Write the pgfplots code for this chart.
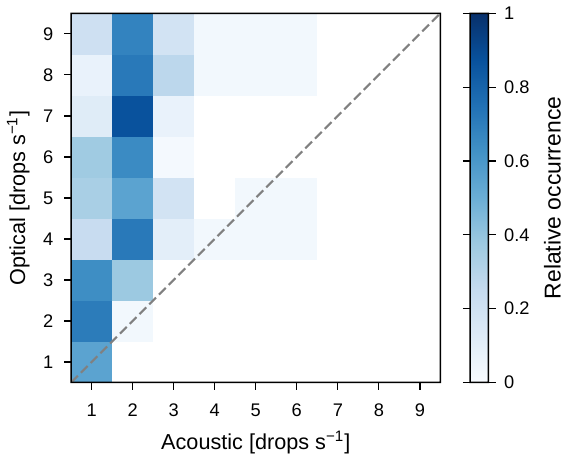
\documentclass[border=0pt]{standalone}
\usepackage{pgfplots}
\pgfplotsset{compat=1.18}
\usepackage{pgfplotstable}
\usepackage{fontspec}
\setmainfont{Liberation Sans}

% relative occurrence, x = acoustic, y = optical
\pgfplotstableread{
x y c
1 1 0.55
2 1 0
3 1 0
4 1 0
5 1 0
6 1 0
7 1 0
8 1 0
9 1 0
1 2 0.71
2 2 0.03
3 2 0
4 2 0
5 2 0
6 2 0
7 2 0
8 2 0
9 2 0
1 3 0.64
2 3 0.38
3 3 0
4 3 0
5 3 0
6 3 0
7 3 0
8 3 0
9 3 0
1 4 0.24
2 4 0.72
3 4 0.10
4 4 0.03
5 4 0.03
6 4 0.03
7 4 0
8 4 0
9 4 0
1 5 0.34
2 5 0.55
3 5 0.19
4 5 0
5 5 0.03
6 5 0.03
7 5 0
8 5 0
9 5 0
1 6 0.37
2 6 0.65
3 6 0.02
4 6 0
5 6 0
6 6 0
7 6 0
8 6 0
9 6 0
1 7 0.12
2 7 0.87
3 7 0.07
4 7 0
5 7 0
6 7 0
7 7 0
8 7 0
9 7 0
1 8 0.07
2 8 0.72
3 8 0.28
4 8 0.03
5 8 0.03
6 8 0.03
7 8 0
8 8 0
9 8 0
1 9 0.21
2 9 0.68
3 9 0.19
4 9 0.03
5 9 0.03
6 9 0.03
7 9 0
8 9 0
9 9 0
}\occurrence

\pgfplotsset{
  every axis/.append style={font=\fontsize{8.6}{10.5}\selectfont},
  every axis label/.append style={font=\fontsize{10.2}{12}\selectfont},
}
% frame as a filled ring (outer minus inner rectangle)
\newcommand\axisframe[1]{%
  \fill[black, even odd rule]
    ([xshift=-0.35pt,yshift=-0.35pt]#1.south west) -- ([xshift=0.35pt,yshift=-0.35pt]#1.south east)
    -- ([xshift=0.35pt,yshift=0.35pt]#1.north east) -- ([xshift=-0.35pt,yshift=0.35pt]#1.north west) -- cycle
    ([xshift=0.35pt,yshift=0.35pt]#1.south west) -- ([xshift=-0.35pt,yshift=0.35pt]#1.south east)
    -- ([xshift=-0.35pt,yshift=-0.35pt]#1.north east) -- ([xshift=0.35pt,yshift=-0.35pt]#1.north west) -- cycle;}

\begin{document}
\begin{tikzpicture}
\begin{axis}[
  name=main,
  scale only axis,
  width=174pt, height=174pt,
  xmin=0.5, xmax=9.5, ymin=0.5, ymax=9.5,
  xtick={1,...,9}, ytick={1,...,9},
  xtick align=outside, ytick align=outside,
  xtick pos=bottom, ytick pos=left,
  major tick length=3.4pt,
  every tick/.append style={black, line width=0.6pt},
  /pgf/number format/assume math mode=true,
  yticklabel style={xshift=-1.5pt},
  xticklabel style={yshift=-3pt},
  xlabel={Acoustic [drops s\textsuperscript{−1}]},
  ylabel={Optical [drops s\textsuperscript{−1}]},
  ylabel style={yshift=-0.5pt},
  colormap={blues}{rgb255(0pt)=(255,255,255) rgb255(5pt)=(247,251,255) rgb255(125pt)=(222,235,247) rgb255(250pt)=(198,219,239) rgb255(375pt)=(158,202,225) rgb255(500pt)=(107,174,214) rgb255(625pt)=(66,146,198) rgb255(750pt)=(33,113,181) rgb255(875pt)=(8,81,156) rgb255(1000pt)=(8,48,107)},
  point meta min=0, point meta max=1,
  colorbar,
  colorbar style={
    name=cb,
    width=8.6pt,
    at={(parent axis.north east)}, xshift=5.5pt, anchor=north west,
    ytick={0,0.2,...,1},
    yticklabel style={/pgf/number format/assume math mode=true, xshift=0.5pt},
    ylabel={Relative occurrence},
    ylabel style={font=\fontsize{10.8}{12}\selectfont},
    major tick length=3.4pt,
    ytick align=outside,
    every tick/.append style={black, line width=0.6pt},
  },
]
\addplot[matrix plot*, mesh/cols=9, point meta=explicit]
  table[x=x, y=y, meta=c] {\occurrence};
\addplot[color=gray, line width=1pt, dash pattern=on 4.5pt off 2pt]
  coordinates {(0.5,0.5) (9.5,9.5)};
\end{axis}
\axisframe{main}
\axisframe{cb}
\end{tikzpicture}
\end{document}
